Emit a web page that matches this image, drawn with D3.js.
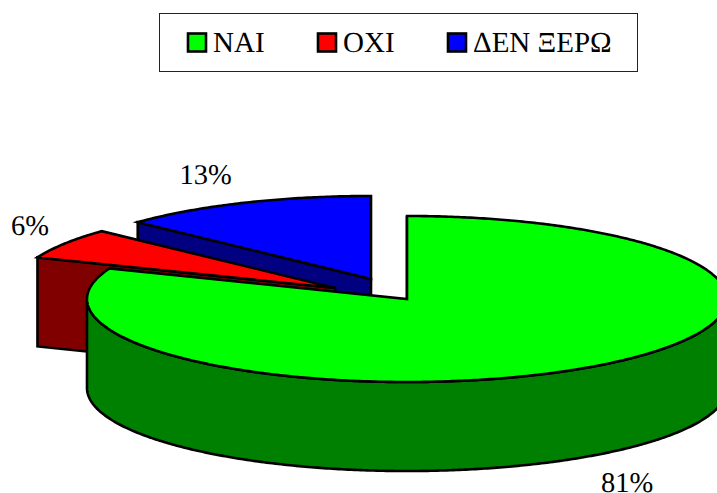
<!DOCTYPE html>
<html>
<head>
<meta charset="utf-8">
<script src="https://cdnjs.cloudflare.com/ajax/libs/d3/7.8.5/d3.min.js"></script>
<style>
    html, body { margin: 0; padding: 0; background: #fff; }
    svg { display: block; }
    text { font-family: "Liberation Serif", serif; fill: #000; text-rendering: geometricPrecision; }
</style>
</head>
<body>
<svg id="chart" width="717" height="493"></svg>
<script>
const categories = ['NAI', 'OXI', 'ΔΕΝ ΞΕΡΩ'];
const values = [81, 6, 13];
const topColors = ['#00ff00', '#ff0000', '#0000ff'];
const sideColors = ['#008000', '#800000', '#000080'];

// layout, the apex of each slice is moved because the pie is exploded
const apexes = [[407, 299], [335, 288], [371, 279]];
const labelPos = [[627, 491.5], [30, 235], [205.5, 184.3]];
const legendX = [187, 317, 447];
const rx = 320, ry = 83, depth = 89;

const svg = d3.select('#chart');
const line = d3.line();
const slices = d3.pie().sort(null)(values);

function rim(i, a) {
    return [apexes[i][0] + rx * Math.sin(a), apexes[i][1] - ry * Math.cos(a)];
}

function arcPoints(i, a0, a1) {
    const n = Math.max(2, Math.ceil((a1 - a0) / 0.01));
    return d3.range(n + 1).map(k => rim(i, a0 + (a1 - a0) * k / n));
}

function draw(points, fill) {
    svg.append('path')
        .attr('d', line(points) + 'Z')
        .attr('fill', fill)
        .attr('stroke', '#000')
        .attr('stroke-width', 2.6)
        .attr('stroke-linejoin', 'miter');
}

// back to front: blue, red, green
[2, 1, 0].forEach(i => {
    const s = slices[i];
    const apex = apexes[i];

    // cut face of the slice
    const p = rim(i, s.startAngle);
    draw([p, apex, [apex[0], apex[1] + depth], [p[0], p[1] + depth]], sideColors[i]);

    // outer wall, only the front half of the ellipse shows
    const a0 = Math.max(s.startAngle, Math.PI / 2);
    const a1 = Math.min(s.endAngle, Math.PI * 3 / 2);
    if (a1 > a0) {
        const upper = arcPoints(i, a0, a1);
        const lower = upper.map(d => [d[0], d[1] + depth]).reverse();
        draw(upper.concat(lower), sideColors[i]);
    }

    draw([apex].concat(arcPoints(i, s.startAngle, s.endAngle)), topColors[i]);
});

// percent labels
slices.forEach((s, i) => {
    svg.append('text')
        .attr('x', labelPos[i][0])
        .attr('y', labelPos[i][1])
        .attr('text-anchor', 'middle')
        .attr('font-size', 28.5)
        .text(values[i] + '%');
});

// legend
svg.append('rect')
    .attr('x', 159.5).attr('y', 13.5)
    .attr('width', 478).attr('height', 58)
    .attr('fill', '#fff')
    .attr('stroke', '#222')
    .attr('stroke-width', 1);

categories.forEach((c, i) => {
    svg.append('rect')
        .attr('x', legendX[i] + 1).attr('y', 33.5)
        .attr('width', 18).attr('height', 18)
        .attr('fill', topColors[i])
        .attr('stroke', '#000')
        .attr('stroke-width', 2.6);
    svg.append('text')
        .attr('x', legendX[i] + 26)
        .attr('y', 52)
        .attr('font-size', 29)
        .text(c);
});
</script>
</body>
</html>
